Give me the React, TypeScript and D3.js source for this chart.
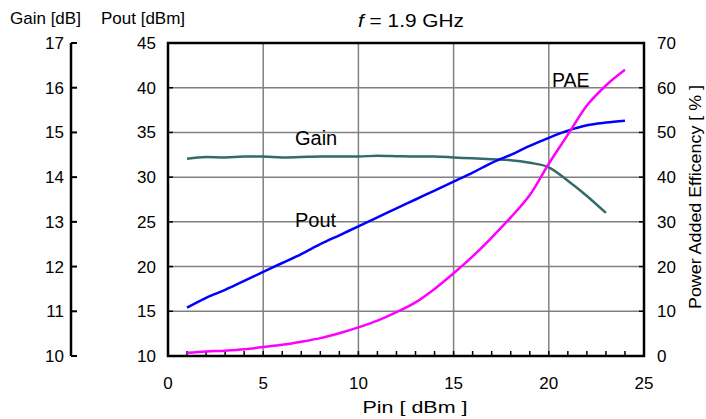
import React, { useEffect, useRef } from 'react';
import * as d3 from 'd3';

const pin = [1, 2, 3, 4, 5, 6, 7, 8, 9, 10, 11, 12, 13, 14, 15, 16, 17, 18, 19, 20, 21, 22, 23, 24];
const pout = [15.4, 16.5, 17.4, 18.4, 19.4, 20.4, 21.4, 22.5, 23.5, 24.5, 25.5, 26.5, 27.5, 28.5, 29.5, 30.5, 31.6, 32.5, 33.5, 34.4, 35.2, 35.8, 36.1, 36.3];
const gain = [14.41, 14.45, 14.44, 14.46, 14.46, 14.44, 14.45, 14.46, 14.46, 14.46, 14.48, 14.47, 14.46, 14.46, 14.44, 14.42, 14.4, 14.38, 14.32, 14.22, 13.92, 13.58, 13.2];
const pae = [0.7, 1.0, 1.2, 1.5, 2.0, 2.5, 3.2, 4.0, 5.1, 6.4, 7.9, 9.8, 12.0, 15.0, 18.5, 22.3, 26.5, 31.0, 36.0, 43.0, 49.5, 56.0, 60.5, 64.0];

const xTicks = [0, 5, 10, 15, 20, 25];
const poutTicks = [10, 15, 20, 25, 30, 35, 40, 45];
const gainTicks = [10, 11, 12, 13, 14, 15, 16, 17];
const paeTicks = [0, 10, 20, 30, 40, 50, 60, 70];

const App = () => {
  const ref = useRef<SVGSVGElement>(null);

  useEffect(() => {
    const svg = d3.select(ref.current);
    svg.selectAll("*").remove();

    const width = 706;
    const height = 419;
    const left = 168, right = 644, top = 43, bottom = 356;
    const font = "Liberation Sans, Arial, sans-serif";

    svg.attr("width", width).attr("height", height)
      .style("position", "absolute").style("left", "0px").style("top", "0px")
      .style("font-family", font);

    const x = d3.scaleLinear().domain([0, 25]).range([left, right]);
    const y = d3.scaleLinear().domain([10, 45]).range([bottom, top]);
    const yGain = d3.scaleLinear().domain([10, 17]).range([bottom, top]);
    const yPae = d3.scaleLinear().domain([0, 70]).range([bottom, top]);

    // grid
    const grid = svg.append("g").attr("stroke", "#808080").attr("stroke-width", 1.5);
    xTicks.slice(1, -1).forEach(t => {
      grid.append("line").attr("x1", x(t)).attr("x2", x(t)).attr("y1", top).attr("y2", bottom);
    });
    poutTicks.slice(1, -1).forEach(t => {
      grid.append("line").attr("x1", left).attr("x2", right).attr("y1", y(t)).attr("y2", y(t));
    });

    // inner ticks
    const ticks = svg.append("g").attr("stroke", "#000").attr("stroke-width", 1.5);
    d3.range(1, 25).forEach(t => {
      ticks.append("line").attr("x1", x(t)).attr("x2", x(t)).attr("y1", bottom).attr("y2", bottom - 5);
    });
    poutTicks.forEach(t => {
      ticks.append("line").attr("x1", left).attr("x2", left + 5).attr("y1", y(t)).attr("y2", y(t));
      ticks.append("line").attr("x1", right).attr("x2", right - 5).attr("y1", y(t)).attr("y2", y(t));
    });

    // frame
    svg.append("rect")
      .attr("x", left).attr("y", top)
      .attr("width", right - left).attr("height", bottom - top)
      .attr("fill", "none").attr("stroke", "#000").attr("stroke-width", 2.5);

    // gain axis
    const gx = 71;
    svg.append("line").attr("x1", gx).attr("x2", gx).attr("y1", top).attr("y2", bottom)
      .attr("stroke", "#000").attr("stroke-width", 2.5);
    gainTicks.forEach(t => {
      svg.append("line").attr("x1", gx).attr("x2", gx + 6).attr("y1", yGain(t)).attr("y2", yGain(t))
        .attr("stroke", "#000").attr("stroke-width", 2);
    });

    const label = (tx, ty, txt, anchor = "middle", size = 17) =>
      svg.append("text").attr("x", tx).attr("y", ty).attr("text-anchor", anchor)
        .attr("font-size", size).attr("fill", "#000").text(txt);

    gainTicks.forEach(t => label(64, yGain(t) + 6, t, "end"));
    poutTicks.forEach(t => label(156, y(t) + 6, t, "end"));
    paeTicks.forEach(t => label(657, yPae(t) + 6, t, "start"));
    xTicks.forEach(t => label(x(t), 389, t));

    label(10, 24, "Gain [dB]", "start", 17);
    label(101, 24, "Pout [dBm]", "start", 17);
    label(415, 413, "Pin [ dBm ]", "middle", 16)
      .attr("textLength", 105).attr("lengthAdjust", "spacingAndGlyphs");
    svg.append("text")
      .attr("transform", `translate(701,197) rotate(-90)`)
      .attr("text-anchor", "middle").attr("font-size", 17)
      .attr("textLength", 224).attr("lengthAdjust", "spacingAndGlyphs")
      .text("Power Added Efficency [ % ]");

    const title = svg.append("text").attr("x", 411).attr("y", 27).attr("text-anchor", "middle")
      .attr("font-size", 18).attr("textLength", 106).attr("lengthAdjust", "spacingAndGlyphs");
    title.append("tspan").attr("font-style", "italic").text("f");
    title.append("tspan").text(" = 1.9 GHz");

    // curves
    const line = (ys) => d3.line<number>().x((d, i) => x(pin[i])).y(d => ys(d)).curve(d3.curveMonotoneX);

    svg.append("path").datum(gain).attr("d", line(yGain))
      .attr("fill", "none").attr("stroke", "#336b6b").attr("stroke-width", 2.5);
    svg.append("path").datum(pout).attr("d", line(y))
      .attr("fill", "none").attr("stroke", "#0000ff").attr("stroke-width", 2.5);
    svg.append("path").datum(pae).attr("d", line(yPae))
      .attr("fill", "none").attr("stroke", "#ff00ff").attr("stroke-width", 2.5);

    label(295, 145, "Gain", "start", 20);
    label(295, 227, "Pout", "start", 20);
    label(552, 87, "PAE", "start", 19.5);
  }, []);

  return <svg ref={ref}></svg>;
};

export default App;
